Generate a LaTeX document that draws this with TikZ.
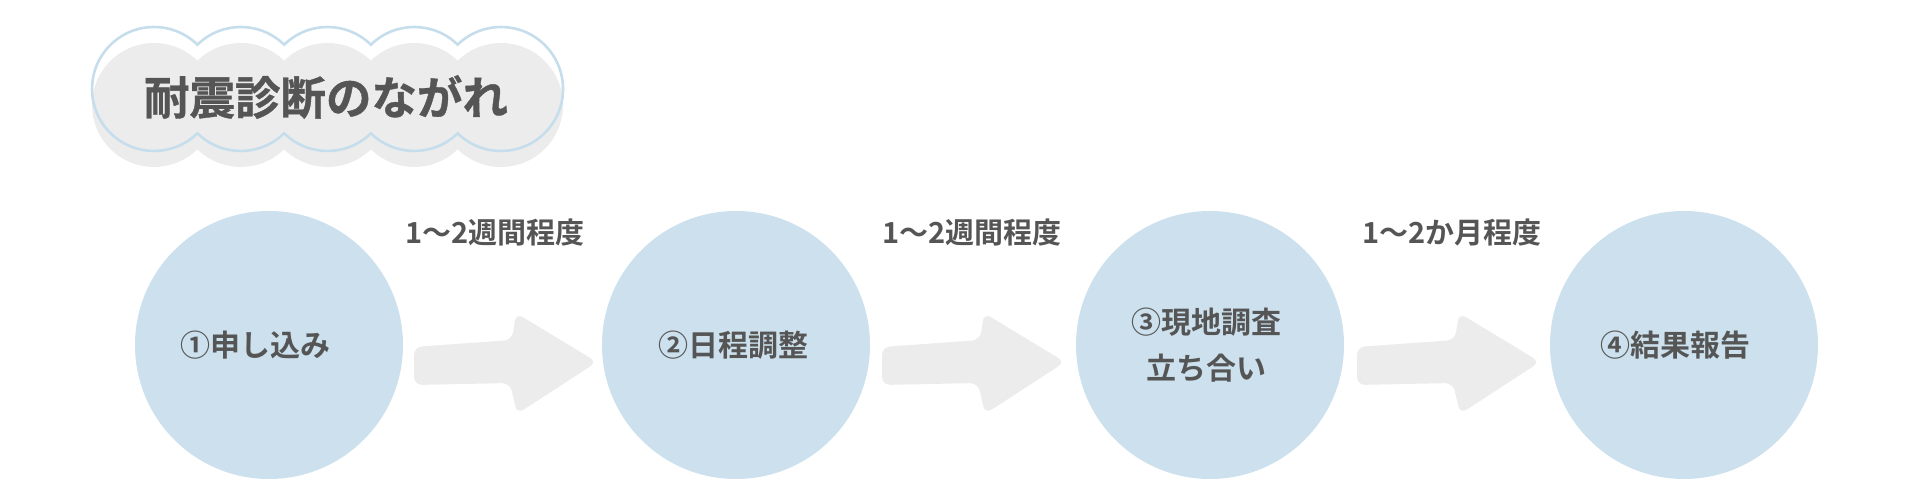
\documentclass[tikz,border=0pt]{standalone}
\usepackage{fontspec}
\setmainfont{Noto Sans CJK JP}[BoldFont={* Bold}]
\newfontfamily\titlefont{Noto Sans CJK JP Bold}[FakeBold=0.8]
\definecolor{circfill}{HTML}{CCE1ED}
\definecolor{cloudline}{HTML}{C6DEEC}
\definecolor{graybg}{HTML}{ECECEC}
\definecolor{txt}{HTML}{555555}
\newcommand\mycloud[1]{(197.4,#1+44.3)
  arc[start angle=45.6,end angle=314.4,radius=62]
  arc[start angle=225.6,end angle=314.4,radius=62]
  arc[start angle=225.6,end angle=314.4,radius=62]
  arc[start angle=225.6,end angle=314.4,radius=62]
  arc[start angle=225.6,end angle=494.4,radius=62]
  arc[start angle=45.6,end angle=134.4,radius=62]
  arc[start angle=45.6,end angle=134.4,radius=62]
  arc[start angle=45.6,end angle=134.4,radius=62] -- cycle}
\newcommand\myarrow[1]{\fill[graybg,rounded corners=8pt]
  (#1,153) -- (#1+98,160) -- (#1+102,187) -- (#1+183,138) -- (#1+103,86)
  -- (#1+96,117) -- (#1,115) -- cycle;}
\begin{document}
\begin{tikzpicture}[x=1pt,y=1pt,
  stepcirc/.style={circle,fill=circfill,minimum size=268pt,inner sep=0pt},
  steptext/.style={text=txt,font=\fontsize{30}{46}\selectfont\bfseries,align=center},
  durtext/.style={text=txt,font=\fontsize{29}{32}\selectfont\bfseries}]
\useasboundingbox (0,0) rectangle (1920,500);
% title cloud
\fill[graybg] \mycloud{395};
\draw[cloudline,line width=2.6pt] \mycloud{411};
\node[text=txt,font=\fontsize{45.5}{50}\selectfont\titlefont] (title) at (326,403) {耐震診断のながれ};
% circles
\node[stepcirc] (c1) at (269,155) {};
\node[stepcirc] (c2) at (736,155) {};
\node[stepcirc] (c3) at (1210,155) {};
\node[stepcirc] (c4) at (1684,155) {};
\node[steptext] (t1) at (255,155) {①申し込み};
\node[steptext] (t2) at (733,155) {②日程調整};
\node[steptext] (t3) at (1206,155) {③現地調査\\立ち合い};
\node[steptext] (t4) at (1675,155) {④結果報告};
% arrows
\myarrow{414}
\myarrow{882}
\myarrow{1357}
% durations
\node[durtext] (d1) at (495,267) {1〜2週間程度};
\node[durtext] (d2) at (972,267) {1〜2週間程度};
\node[durtext] (d3) at (1452,267) {1〜2か月程度};
\end{tikzpicture}
\end{document}
